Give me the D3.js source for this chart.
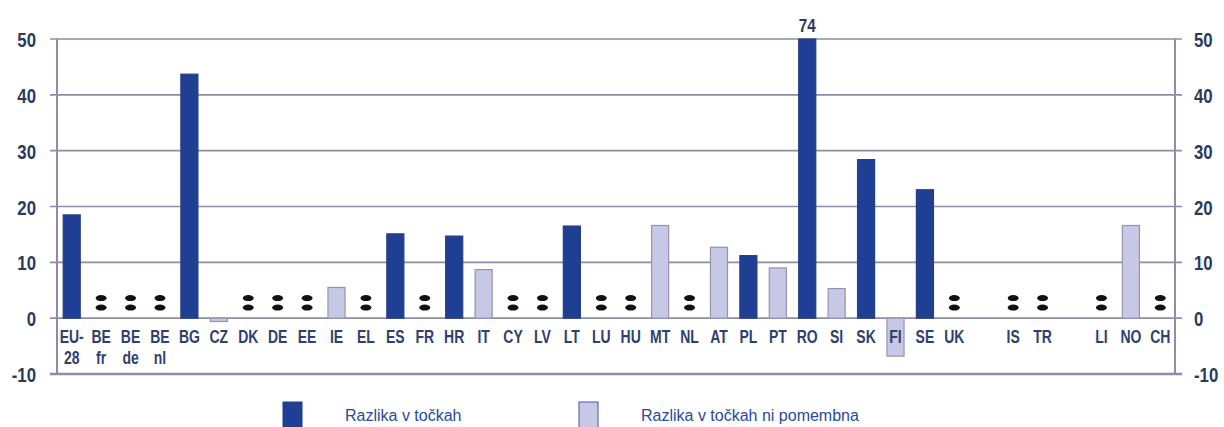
<!DOCTYPE html>
<html lang="sl">
	<head>
		<meta charset="utf-8">
		<title>Razlika v točkah</title>
		<script src="https://d3js.org/d3.v7.min.js"></script>
		<style>
			body { margin: 0; background: #fff; }
			text { font-family: "Liberation Sans", Arial, sans-serif; }
			.tick-lbl { font-size: 21px; font-weight: bold; fill: #2c3a5e; }
			.top-lbl { font-size: 19px; font-weight: bold; fill: #2c3a5e; }
			.cat-lbl { font-size: 17.5px; font-weight: bold; fill: #2f3f6e; }
			.leg-lbl { font-size: 16px; fill: #2a4a9c; }
		</style>
	</head>
	<body>
		<div id="chart"></div>
		<script>
			// data
			var labelTop = ["EU-","BE","BE","BE","BG","CZ","DK","DE","EE","IE","EL","ES","FR","HR","IT","CY","LV","LT","LU","HU","MT","NL","AT","PL","PT","RO","SI","SK","FI","SE","UK","","IS","TR","","LI","NO","CH"];
			var labelBottom = ["28","fr","de","nl","","","","","","","","","","","","","","","","","","","","","","","","","","","","","","","","","",""];
			// null = not available (":"), "gap" = empty slot
			var values = [18.5,null,null,null,43.7,-0.6,null,null,null,5.5,null,15.1,null,14.7,8.7,null,null,16.5,null,null,16.6,null,12.7,11.2,9.0,74,5.3,28.4,-6.8,23.0,null,"gap",null,null,"gap",null,16.6,null];
			// 1 = significant difference, 0 = not significant
			var significant = [1,0,0,0,1,0,0,0,0,0,0,1,0,1,0,0,0,1,0,0,0,0,0,1,0,1,0,1,0,1,0,0,0,0,0,0,0,0];
			var yTicks = [-10,0,10,20,30,40,50];
			var legendLabels = ["Razlika v točkah","Razlika v točkah ni pomembna"];

			var w = 1224, h = 427;
			var mLeft = 57, mRight = 1175, mTop = 39, mBottom = 374;
			var dark = "#1f3f95", light = "#c6c8e5";
			var sq = 0.8; // horizontal squeeze, stands in for a narrow face

			var svg = d3.select("#chart").append("svg").attr("width",w).attr("height",h);

			var x = d3.scaleBand().domain(d3.range(values.length)).range([mLeft,mRight]).paddingInner(0.42).paddingOuter(0.21);
			var y = d3.scaleLinear().domain([-10,50]).range([mBottom,mTop]);

			// gridlines
			svg.append("g").selectAll("line").data(yTicks).enter().append("line")
				.attr("x1",mLeft-7).attr("x2",mRight+7)
				.attr("y1",function(d) { return y(d); }).attr("y2",function(d) { return y(d); })
				.attr("stroke","#8d8da6").attr("stroke-width",function(d) { return d == -10 ? 2.5 : 1.6; });

			// vertical axes
			svg.append("line").attr("x1",mLeft).attr("x2",mLeft).attr("y1",mTop).attr("y2",mBottom).attr("stroke","#8d8da6").attr("stroke-width",2);
			svg.append("line").attr("x1",mRight).attr("x2",mRight).attr("y1",mTop).attr("y2",mBottom).attr("stroke","#8d8da6").attr("stroke-width",2);

			// axis labels both sides (plain hyphen for negatives, as in the source)
			var fmt = function(d) { return String(d); };
			var leftAxis = d3.axisLeft(y).tickValues(yTicks).tickSize(0).tickFormat(fmt);
			var rightAxis = d3.axisRight(y).tickValues(yTicks).tickSize(0).tickFormat(fmt);
			var gl = svg.append("g").attr("transform","translate("+mLeft+",0)").call(leftAxis);
			var gr = svg.append("g").attr("transform","translate("+mRight+",0)").call(rightAxis);
			[[gl,-21],[gr,19]].forEach(function(p) {
				var g = p[0];
				g.attr("font-family",null).attr("font-size",null);
				g.select(".domain").remove();
				g.selectAll("text").attr("class","tick-lbl").attr("fill",null).attr("dy","0.36em")
					.attr("x",p[1]/sq).attr("transform","scale("+sq+",1)");
			});

			// bars
			var barData = values.map(function(v,i) { return {i:i, v:v, sig:significant[i]}; })
				.filter(function(d) { return typeof d.v == "number"; });
			svg.append("g").selectAll("rect").data(barData).enter().append("rect")
				.attr("x",function(d) { return x(d.i); })
				.attr("width",x.bandwidth())
				.attr("y",function(d) { return y(Math.min(50,Math.max(d.v,0))); })
				.attr("height",function(d) { return Math.abs(y(Math.min(50,d.v)) - y(0)); })
				.attr("fill",function(d) { return d.sig ? dark : light; })
				.attr("stroke",function(d) { return d.sig ? "#2a3f80" : "#9494ad"; })
				.attr("stroke-width",1.2);

			// value above truncated bar
			svg.append("g").selectAll("g").data(barData.filter(function(d) { return d.v > 50; })).enter().append("g")
				.attr("transform",function(d) { return "translate("+(x(d.i) + x.bandwidth()/2)+","+(mTop-7)+")"; })
				.append("text")
				.attr("class","top-lbl")
				.attr("transform","scale("+sq+",1)")
				.attr("text-anchor","middle")
				.text(function(d) { return d3.format("d")(d.v); });

			// ":" markers for not available
			var naData = values.map(function(v,i) { return {i:i, v:v}; }).filter(function(d) { return d.v === null; });
			var na = svg.append("g").selectAll("g").data(naData).enter().append("g")
				.attr("transform",function(d) { return "translate("+(x(d.i)+x.bandwidth()/2)+",0)"; });
			na.append("ellipse").attr("cy",y(3.6)).attr("rx",5.5).attr("ry",3).attr("fill","#111");
			na.append("ellipse").attr("cy",y(1.9)).attr("rx",5.5).attr("ry",3).attr("fill","#111");

			// category labels
			var cats = svg.append("g").selectAll("g").data(d3.range(values.length)).enter().append("g")
				.attr("transform",function(i) { return "translate("+(x(i)+x.bandwidth()/2)+",0) scale("+sq+",1)"; });
			cats.append("text").attr("class","cat-lbl").attr("y",y(0)+25).attr("text-anchor","middle")
				.text(function(i) { return labelTop[i]; });
			cats.append("text").attr("class","cat-lbl").attr("y",y(0)+46).attr("text-anchor","middle")
				.text(function(i) { return labelBottom[i]; });

			// legend
			var legX = [283,579];
			var leg = svg.append("g").selectAll("g").data(legendLabels).enter().append("g")
				.attr("transform",function(d,i) { return "translate("+legX[i]+",402)"; });
			leg.append("rect").attr("width",19).attr("height",28)
				.attr("fill",function(d,i) { return i == 0 ? dark : light; })
				.attr("stroke",function(d,i) { return i == 0 ? dark : "#3f5aa8"; }).attr("stroke-width",1);
			leg.append("text").attr("class","leg-lbl").attr("x",62).attr("y",19).text(function(d) { return d; });
		</script>
	</body>
</html>
